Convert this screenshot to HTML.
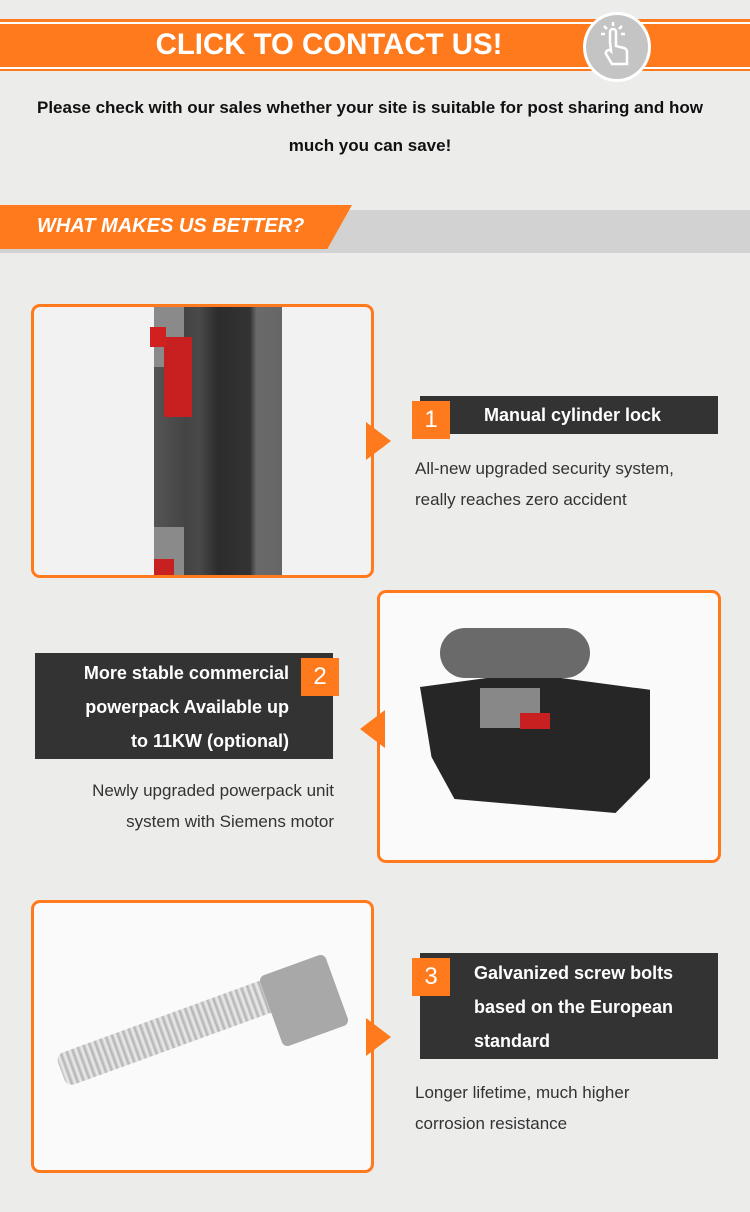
<!DOCTYPE html>
<html><head><style>
body{margin:0;width:750px;height:1212px;background:#ececeb;position:relative;font-family:"Liberation Sans",sans-serif;overflow:hidden}
.a{position:absolute}
.box{position:absolute;border:3px solid #ff7a1c;border-radius:9px;background:#f2f2f2;box-sizing:border-box;overflow:hidden}
.dark{position:absolute;background:#333;color:#fff;font-weight:bold;font-size:18px}
.num{position:absolute;background:#ff7a1c;color:#fff;font-size:24px;width:38px;height:38px;text-align:center;line-height:38px}
.tri{position:absolute;width:0;height:0;border-top:19px solid transparent;border-bottom:19px solid transparent}
.desc{position:absolute;font-size:17px;color:#333;line-height:31px}
</style></head><body>
<div class="a" style="left:0;top:19px;width:750px;height:52px;background:#ff7a1c"></div>
<div class="a" style="left:0;top:22px;width:750px;height:2px;background:#fff"></div>
<div class="a" style="left:0;top:67px;width:750px;height:2px;background:#fff"></div>
<div class="a" style="left:134px;top:28px;width:390px;text-align:center;color:#fff;font:bold 30px 'Liberation Sans',sans-serif;letter-spacing:0px;transform:scaleX(0.98)">CLICK TO CONTACT US!</div>
<div class="a" style="left:583px;top:12px;width:62px;height:64px;border-radius:50%;background:#c4c4c4;border:3px solid #fff"></div>
<svg class="a" style="left:596px;top:20px" width="40" height="50"><g stroke="#fff" stroke-width="2.5" fill="none"><path d="M14 22V12a3 3 0 0 1 6 0v14l8 2a4 4 0 0 1 3 4v12H16l-6-10a3 3 0 0 1 5-3z"/><path d="M17 2v4M8 6l3 3M26 6l-3 3M5 14h4M25 14h4"/></g></svg>
<div class="a" style="left:0;top:89px;width:740px;text-align:center;font-weight:bold;font-size:17px;line-height:38px;color:#111">Please check with our sales whether your site is suitable for post sharing and how<br>much you can save!</div>
<div class="a" style="left:0;top:210px;width:750px;height:43px;background:#d2d2d2"></div>
<div class="a" style="left:0;top:205px;width:352px;height:44px;background:#ff7a1c;clip-path:polygon(0 0,100% 0,93% 100%,0 100%)"></div>
<div class="a" style="left:37px;top:215px;color:#fff;font-weight:bold;font-style:italic;font-size:20px">WHAT MAKES US BETTER?</div>

<div class="box" style="left:31px;top:304px;width:343px;height:274px">
<div class="a" style="left:120px;top:0;width:128px;height:270px;background:linear-gradient(90deg,#555 0,#444 25%,#4a4a4a 35%,#2c2c2c 50%,#333 75%,#6a6a6a 80%,#666 100%)"></div>
<div class="a" style="left:120px;top:0;width:30px;height:60px;background:#8a8a8a"></div>
<div class="a" style="left:130px;top:30px;width:28px;height:80px;background:#c82020"></div>
<div class="a" style="left:116px;top:20px;width:16px;height:20px;background:#d02020"></div>
<div class="a" style="left:120px;top:220px;width:30px;height:50px;background:#8a8a8a"></div>
<div class="a" style="left:120px;top:252px;width:20px;height:18px;background:#c82020"></div>
</div>
<div class="tri" style="left:366px;top:422px;border-left:25px solid #ff7a1c"></div>
<div class="dark" style="left:420px;top:396px;width:298px;height:38px;line-height:38px;text-indent:64px">Manual cylinder lock</div>
<div class="num" style="left:412px;top:401px">1</div>
<div class="desc" style="left:415px;top:453px">All-new upgraded security system,<br>really reaches zero accident</div>

<div class="box" style="left:377px;top:590px;width:344px;height:273px;background:#fafafa">
<div class="a" style="left:40px;top:80px;width:230px;height:140px;background:#262626;clip-path:polygon(0 10%,45% 0,100% 12%,100% 75%,85% 100%,15% 90%,5% 60%)"></div>
<div class="a" style="left:60px;top:35px;width:150px;height:50px;background:#6a6a6a;border-radius:25px"></div>
<div class="a" style="left:100px;top:95px;width:60px;height:40px;background:#888"></div>
<div class="a" style="left:140px;top:120px;width:30px;height:16px;background:#c82020"></div>
</div>
<div class="tri" style="left:360px;top:710px;border-right:25px solid #ff7a1c"></div>
<div class="dark" style="left:35px;top:653px;width:298px;height:106px;line-height:34px;padding-top:3px;box-sizing:border-box;text-align:right;padding-right:44px">More stable commercial<br>powerpack Available up<br>to 11KW (optional)</div>
<div class="num" style="left:301px;top:658px">2</div>
<div class="desc" style="left:0;width:334px;text-align:right;top:775px">Newly upgraded powerpack unit<br>system with Siemens motor</div>

<div class="box" style="left:31px;top:900px;width:343px;height:273px;background:#fafafa">
<div class="a" style="left:20px;top:110px;width:240px;height:34px;background:repeating-linear-gradient(90deg,#bbb 0,#eee 3px,#aaa 6px);transform:rotate(-20deg);border-radius:8px"></div>
<div class="a" style="left:235px;top:60px;width:70px;height:75px;background:#a8a8a8;transform:rotate(-20deg);border-radius:6px"></div>
</div>
<div class="tri" style="left:366px;top:1018px;border-left:25px solid #ff7a1c"></div>
<div class="dark" style="left:420px;top:953px;width:298px;height:106px;line-height:34px;padding:3px 0 0 54px;box-sizing:border-box">Galvanized screw bolts<br>based on the European<br>standard</div>
<div class="num" style="left:412px;top:958px">3</div>
<div class="desc" style="left:415px;top:1077px">Longer lifetime, much higher<br>corrosion resistance</div>
</body></html>
